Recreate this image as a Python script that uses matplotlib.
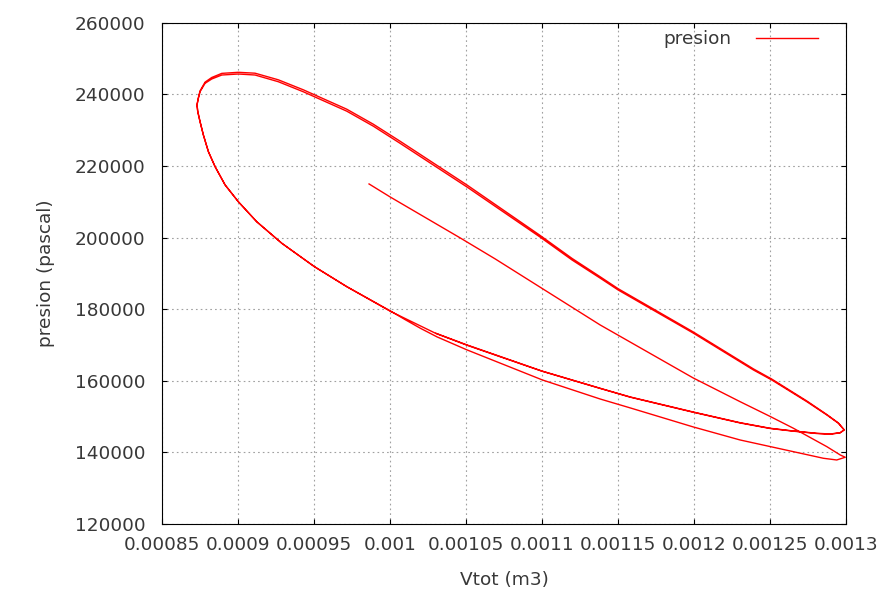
import numpy as np
import matplotlib.pyplot as plt

# first expansion + return (transient, thin)
v_start = [0.000986, 0.0010, 0.001046, 0.001069, 0.001138, 0.0011992,
           0.0012301, 0.00125, 0.0012652, 0.0012872, 0.001296, 0.0012993,
           0.0012937, 0.0012849, 0.001252, 0.0012301, 0.0011992, 0.0011578,
           0.001138, 0.0011, 0.0010505, 0.0010308, 0.00102, 0.00101]
p_start = [214960, 211300, 199880, 194020, 175590, 160790,
           154150, 150000, 146720, 141580, 139260, 138620,
           137860, 138340, 141410, 143450, 147100, 152410,
           154900, 160220, 168600, 172230, 174600, 177000]

# limit cycle, volume along the loop
v_loop = [0.001, 0.0009713, 0.00095, 0.0009286, 0.0009121, 0.0009,
          0.0008913, 0.0008847, 0.0008803, 0.000877, 0.0008748, 0.0008733,
          0.0008728, 0.0008737, 0.0008748, 0.0008781, 0.0008825, 0.0008891,
          0.0009, 0.000911, 0.0009263, 0.0009428, 0.0009713, 0.0009888,
          0.0010064, 0.0010505, 0.0010985, 0.0011196, 0.001138, 0.0011499,
          0.0011992, 0.0012389, 0.001251, 0.001274, 0.0012872, 0.0012948,
          0.0012986, 0.001296, 0.0012894, 0.0012806, 0.0012652, 0.0012499,
          0.0012301, 0.0011992, 0.0011578, 0.001138, 0.0010998, 0.0010505,
          0.00103]
p_cycle1 = [179500, 186300, 191900, 198400, 204400, 210000,
            214700, 219800, 224000, 228650, 232400, 235200,
            237100, 239050, 240950, 243400, 244700, 245850,
            246150, 245900, 244050, 241250, 235850, 231650,
            226900, 214650, 200600, 194150, 189050, 185700,
            173650, 163300, 160450, 154350, 150550, 148200,
            146300, 145450, 145050, 145250, 145900, 146650,
            148200, 151200, 155400, 157850, 162650, 169900,
            173200]
p_cycle2 = [179400, 186270, 191850, 198390, 204420, 210000,
            214670, 219780, 223970, 228630, 232350, 235140,
            237000, 238890, 240730, 243070, 244280, 245390,
            245670, 245390, 243520, 240700, 235300, 231100,
            226320, 214090, 200130, 193710, 188670, 185340,
            173330, 163000, 160200, 154150, 150430, 148110,
            146240, 145490, 145120, 145320, 145960, 146720,
            148280, 151270, 155470, 157900, 162700, 169990,
            173250]

vtot = np.array(v_start + v_loop + v_loop)
presion = np.array(p_start + p_cycle1 + p_cycle2)

xticks = [0.00085, 0.0009, 0.00095, 0.001, 0.00105, 0.0011, 0.00115,
          0.0012, 0.00125, 0.0013]
xlabels = ['0.00085', '0.0009', '0.00095', '0.001', '0.00105', '0.0011',
           '0.00115', '0.0012', '0.00125', '0.0013']
yticks = [120000, 140000, 160000, 180000, 200000, 220000, 240000, 260000]

plt.rcParams['font.family'] = 'DejaVu Sans'
fs = 13.3
txt_col = '#383838'

fig = plt.figure(figsize=(8.78, 5.90), dpi=100)
ax = fig.add_axes([0.1849, 0.112, 0.7790, 0.8495])

ax.plot(vtot, presion, color='#ff0000', lw=1.0, label='presion')

ax.set_xlim(0.00085, 0.0013)
ax.set_ylim(120000, 260000)
ax.set_xticks(xticks)
ax.set_xticklabels(xlabels)
ax.set_yticks(yticks)
ax.set_yticklabels([str(t) for t in yticks])

ax.grid(True, color='#a0a0a0', lw=0.8, linestyle=(0, (1.5, 2.8)))
ax.tick_params(direction='in', length=3.5, width=0.8, top=True, right=True,
               labelsize=fs, labelcolor=txt_col)
ax.tick_params(axis='x', pad=9)
ax.tick_params(axis='y', pad=12)
for s in ax.spines.values():
    s.set_linewidth(0.8)

ax.set_xlabel('Vtot (m3)', fontsize=fs, color=txt_col, labelpad=12)
ax.set_ylabel('presion (pascal)', fontsize=fs, color=txt_col, labelpad=14)

ax.legend(loc='center right', bbox_to_anchor=(0.959, 0.9675),
          frameon=False, markerfirst=False, fontsize=fs,
          handlelength=3.35, handletextpad=1.35, borderpad=0,
          borderaxespad=0, labelcolor=txt_col)

fig.savefig('out.png', dpi=100)
